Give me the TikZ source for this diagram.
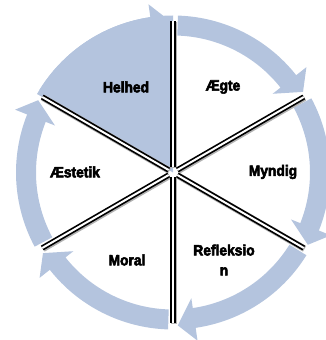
\documentclass[tikz,border=0pt]{standalone}
\usepackage{fontspec}
\setmainfont{Liberation Sans}
\newfontfamily\heavyfont{Liberation Sans Bold}[FakeBold=3.5, FakeStretch=0.92]
\definecolor{arrowblue}{RGB}{180,196,222}
\tikzset{
  spokeline/.style={draw=black, line width=1.7pt, double=white, double distance=2pt},
  spokeshadow/.style={draw=gray!60, line width=6.5pt},
  lbl/.style={font=\fontsize{15}{20}\selectfont\heavyfont, align=center, inner sep=0pt}
}
\begin{document}
\begin{tikzpicture}[x=1pt,y=1pt]
\useasboundingbox (0,0) rectangle (326,340);
\begin{scope}[shift={(173,167.5)}]
  % Helhed sector
  \fill[arrowblue] (0,0) -- (150:157) arc[start angle=150,end angle=90,radius=157] -- cycle;
  % circular arrows (clockwise)
  \foreach \s in {90,30,-30,-90,-150,-210}{
    \pgfmathsetmacro\a{\s-1.8}
    \pgfmathsetmacro\b{\s-60+1.8+6.5}
    \pgfmathsetmacro\t{\s-60+1.8}
    \fill[arrowblue] (\a:157) arc[start angle=\a,end angle=\b,radius=157]
      -- (\b:170) -- (\t:153) -- (\b:127) -- (\b:137)
      arc[start angle=\b,end angle=\a,radius=137] -- cycle;
  }
  % spokes
  \foreach \s in {90,30,-30,-90,-150,-210}{
    \draw[spokeshadow] ([shift={(0.8,-0.8)}]\s:5) -- ([shift={(0.8,-0.8)}]\s:151);
  }
  \foreach \s in {90,30,-30,-90,-150,-210}{
    \draw[spokeline] (\s:5) -- (\s:151);
  }
\end{scope}
\node[lbl] (helhed) at (126,253) {Helhed};
\node[lbl] (aegte) at (223,253) {Ægte};
\node[lbl] (myndig) at (273,168) {Myndig};
\node[lbl] (aestetik) at (75,168) {Æstetik};
\node[lbl] (moral) at (127,80) {Moral};
\node[lbl] (refleksion) at (224,80) {Refleksio\\n};
\end{tikzpicture}
\end{document}
